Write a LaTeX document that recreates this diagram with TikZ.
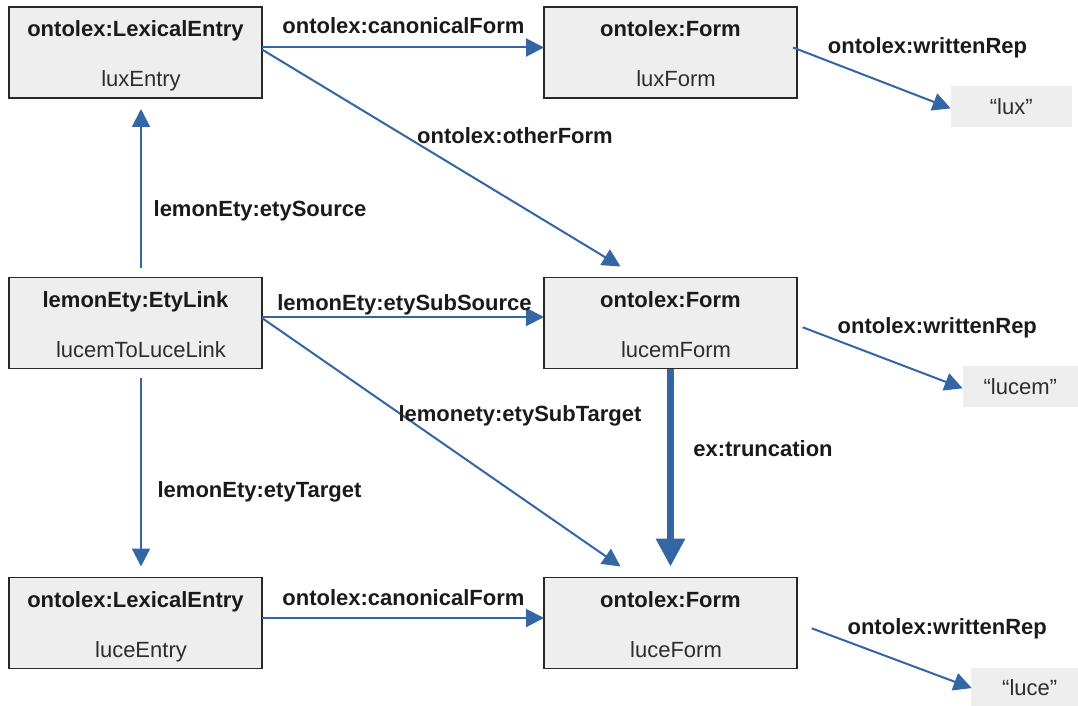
\documentclass[tikz,border=0pt]{standalone}
\usepackage{fontspec}
\setmainfont{Liberation Sans}
\usetikzlibrary{arrows.meta}
\definecolor{edgeblue}{RGB}{52,101,164}
\definecolor{boxfill}{RGB}{238,238,238}
\definecolor{boxline}{RGB}{40,40,40}
\definecolor{txt}{RGB}{26,26,26}
\definecolor{nametxt}{RGB}{45,45,45}
\begin{document}
\begin{tikzpicture}[x=1pt,y=-1pt,
  ebox/.style={draw=boxline, line width=1.5pt, fill=boxfill, minimum width=253pt, minimum height=91pt, inner sep=0pt, outer sep=0pt},
  ttl/.style={font=\fontsize{22}{26}\selectfont\bfseries, text=txt, inner sep=0pt, anchor=base},
  nm/.style={font=\fontsize{22}{26}\selectfont, text=nametxt, inner sep=0pt, anchor=base},
  lit/.style={fill=boxfill, inner sep=0pt, outer sep=0pt, minimum height=40.7pt, font=\fontsize{22}{26}\selectfont, text=nametxt, text height=15.75pt, text depth=0pt},
  lbl/.style={font=\fontsize{22}{26}\selectfont\bfseries, text=txt, inner sep=0pt, anchor=base},
  rel/.style={draw=edgeblue, line width=2pt, -{Triangle[length=18pt,width=18pt]}},
  heavy/.style={draw=edgeblue, line width=6.5pt, -{Triangle[length=28pt,width=28pt]}}
]
\useasboundingbox (0,0) rectangle (1078,706);

% boxes
\node[ebox] (luxEntry) at (135.5,52.5) {};
\node[ttl] (luxEntryT) at ([yshift=-29.5pt]luxEntry.north) {ontolex:LexicalEntry};
\node[nm] (luxEntryN) at ([xshift=5.5pt,yshift=-79.5pt]luxEntry.north) {luxEntry};

\node[ebox] (luxForm) at (670.5,52.5) {};
\node[ttl] (luxFormT) at ([yshift=-29.5pt]luxForm.north) {ontolex:Form};
\node[nm] (luxFormN) at ([xshift=5.5pt,yshift=-79.5pt]luxForm.north) {luxForm};

\node[ebox] (link) at (135.5,323) {};
\node[ttl] (linkT) at ([yshift=-29.5pt]link.north) {lemonEty:EtyLink};
\node[nm] (linkN) at ([xshift=5.5pt,yshift=-79.5pt]link.north) {lucemToLuceLink};

\node[ebox] (lucemForm) at (670.5,323) {};
\node[ttl] (lucemFormT) at ([yshift=-29.5pt]lucemForm.north) {ontolex:Form};
\node[nm] (lucemFormN) at ([xshift=5.5pt,yshift=-79.5pt]lucemForm.north) {lucemForm};

\node[ebox] (luceEntry) at (135.5,623) {};
\node[ttl] (luceEntryT) at ([yshift=-29.5pt]luceEntry.north) {ontolex:LexicalEntry};
\node[nm] (luceEntryN) at ([xshift=5.5pt,yshift=-79.5pt]luceEntry.north) {luceEntry};

\node[ebox] (luceForm) at (670.5,623) {};
\node[ttl] (luceFormT) at ([yshift=-29.5pt]luceForm.north) {ontolex:Form};
\node[nm] (luceFormN) at ([xshift=5.5pt,yshift=-79.5pt]luceForm.north) {luceForm};

% literals
\node[lit, minimum width=121pt] (lux) at (1011.2,106.4) {“lux”};
\node[lit, minimum width=115.3pt] (lucem) at (1020.3,386.4) {“lucem”};
\node[lit, minimum width=118pt] (luce) at (1029.7,688.1) {“luce”};

% connectors
\draw[rel] ([yshift=5pt]luxEntry.east) -- ([yshift=5pt]luxForm.west);
\draw[rel] ([yshift=3pt]luxEntry.east) -- ([xshift=-50pt,yshift=11pt]lucemForm.north);
\draw[rel] ([xshift=-4pt,yshift=5pt]luxForm.east) -- ([yshift=-2pt]lux.west);
\draw[rel] ([xshift=5.5pt,yshift=10pt]link.north) -- ([xshift=5.5pt,yshift=-11pt]luxEntry.south);
\draw[rel] ([yshift=6pt]link.east) -- ([yshift=6pt]lucemForm.west);
\draw[rel] ([yshift=5pt]link.east) -- ([xshift=-50pt,yshift=11pt]luceForm.north);
\draw[rel] ([xshift=5.5pt,yshift=-9.5pt]link.south) -- ([xshift=5.5pt,yshift=11pt]luceEntry.north);
\draw[rel] ([yshift=5pt]luceEntry.east) -- ([yshift=5pt]luceForm.west);
\draw[heavy] (lucemForm.south) -- ([yshift=11pt]luceForm.north);
\draw[rel] ([xshift=5.7pt,yshift=-4.3pt]lucemForm.east) -- ([yshift=-1.9pt]lucem.west);
\draw[rel] ([xshift=14.7pt,yshift=-5.3pt]luceForm.east) -- ([xshift=1pt]luce.west);

% edge labels
\node[lbl] (l1) at (403.4,33.5) {ontolex:canonicalForm};
\node[lbl] (l2) at (515,143.5) {ontolex:otherForm};
\node[lbl] (l3) at (927.5,53.5) {ontolex:writtenRep};
\node[lbl] (l4) at (260,216) {lemonEty:etySource};
\node[lbl] (l5) at (404.5,310) {lemonEty:etySubSource};
\node[lbl] (l6) at (520,421) {lemonety:etySubTarget};
\node[lbl] (l7) at (259.5,497) {lemonEty:etyTarget};
\node[lbl] (l8) at (403.4,605) {ontolex:canonicalForm};
\node[lbl] (l9) at (763,456) {ex:truncation};
\node[lbl] (l10) at (937.3,333.3) {ontolex:writtenRep};
\node[lbl] (l11) at (947.2,634.3) {ontolex:writtenRep};
\end{tikzpicture}
\end{document}
